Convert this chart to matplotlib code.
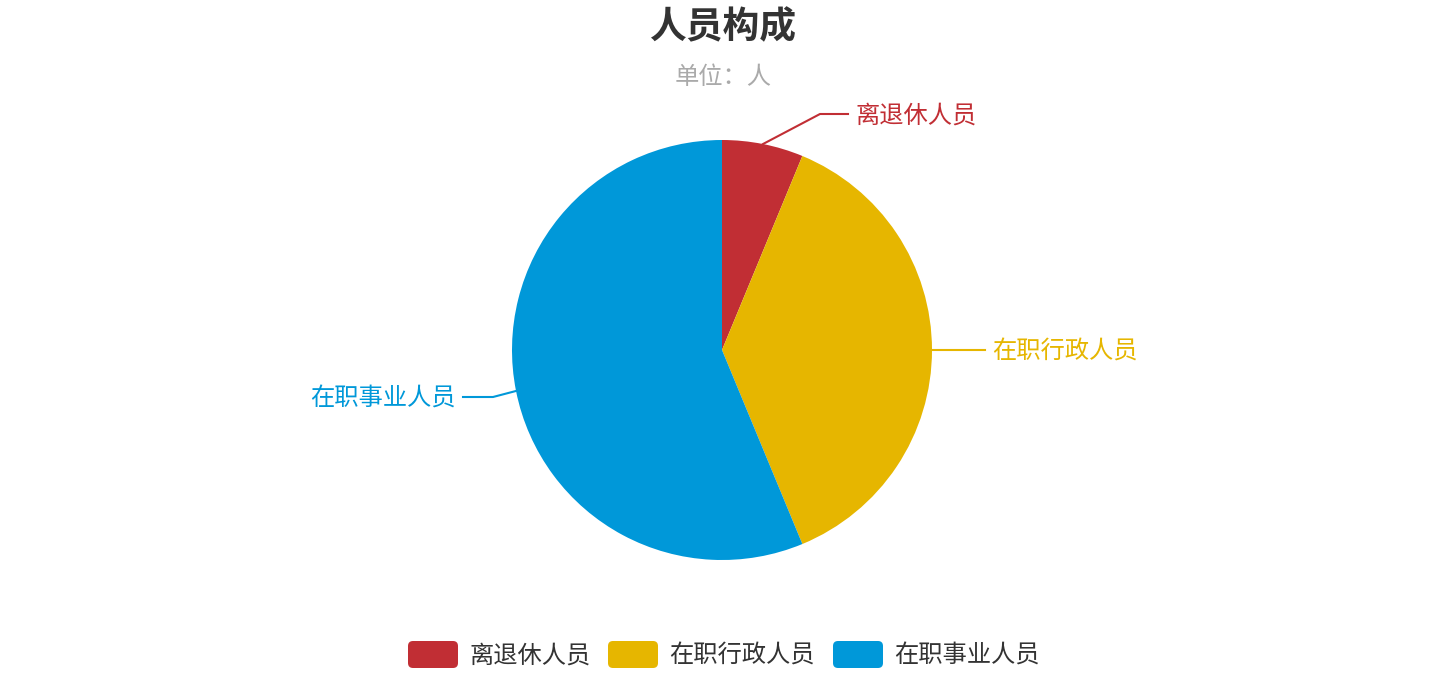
import numpy as np
import matplotlib
matplotlib.use('Agg')
import matplotlib.pyplot as plt
from matplotlib.patches import FancyBboxPatch

plt.rcParams['font.family'] = ['Noto Sans CJK SC', 'DejaVu Sans']

# 数据
names = ['离退休人员', '在职行政人员', '在职事业人员']
values = [5, 30, 45]
colors = ['#c12e34', '#e6b600', '#0098d9']

W, H = 1446, 700
fig = plt.figure(figsize=(W / 100, H / 100), dpi=100)
ax = fig.add_axes([0, 0, 1, 1])

cx, cy, r = 722, H - 350, 210
wedges, _ = ax.pie(values, colors=colors, startangle=90, counterclock=False,
                   center=(cx, cy), radius=r, frame=True,
                   wedgeprops=dict(linewidth=0))
ax.set_xlim(0, W)
ax.set_ylim(0, H)
ax.set_aspect('equal')
ax.axis('off')

# 引导线：起点在扇区中线与圆周交点，拐点和文字位置手动调整
elbows = [(820, 114), (960, 350), (493, 397)]
ends = [(848, 114), (985, 350), (463, 397)]
for w, name, c, el, en in zip(wedges, names, colors, elbows, ends):
    ang = np.deg2rad((w.theta1 + w.theta2) / 2)
    x0 = cx + r * np.cos(ang)
    y0 = cy + r * np.sin(ang)
    ax.plot([x0, el[0], en[0]], [y0, H - el[1], H - en[1]], color=c, lw=1.5)
    if en[0] > cx:
        ax.text(en[0] + 7, H - en[1] - 2, name, color=c, fontsize=17.5,
                ha='left', va='center')
    else:
        ax.text(en[0] - 7, H - en[1] - 2, name, color=c, fontsize=17.5,
                ha='right', va='center')

# 标题
ax.text(W / 2, H - 28, '人员构成', fontsize=26.5, fontweight='bold',
        color='#333333', ha='center', va='center')
ax.text(W / 2, H - 77, '单位：人', fontsize=17.5, color='#aaaaaa',
        ha='center', va='center')

# 图例
leg_x = [408, 608, 833]
for lx, name, c in zip(leg_x, names, colors):
    box = FancyBboxPatch((lx, H - 668), 50, 27,
                         boxstyle='round,pad=0,rounding_size=5',
                         facecolor=c, edgecolor='none')
    ax.add_patch(box)
    ax.text(lx + 61, H - 656, name, fontsize=17.5, color='#333333',
            ha='left', va='center')

fig.savefig('out.png', dpi=100)
